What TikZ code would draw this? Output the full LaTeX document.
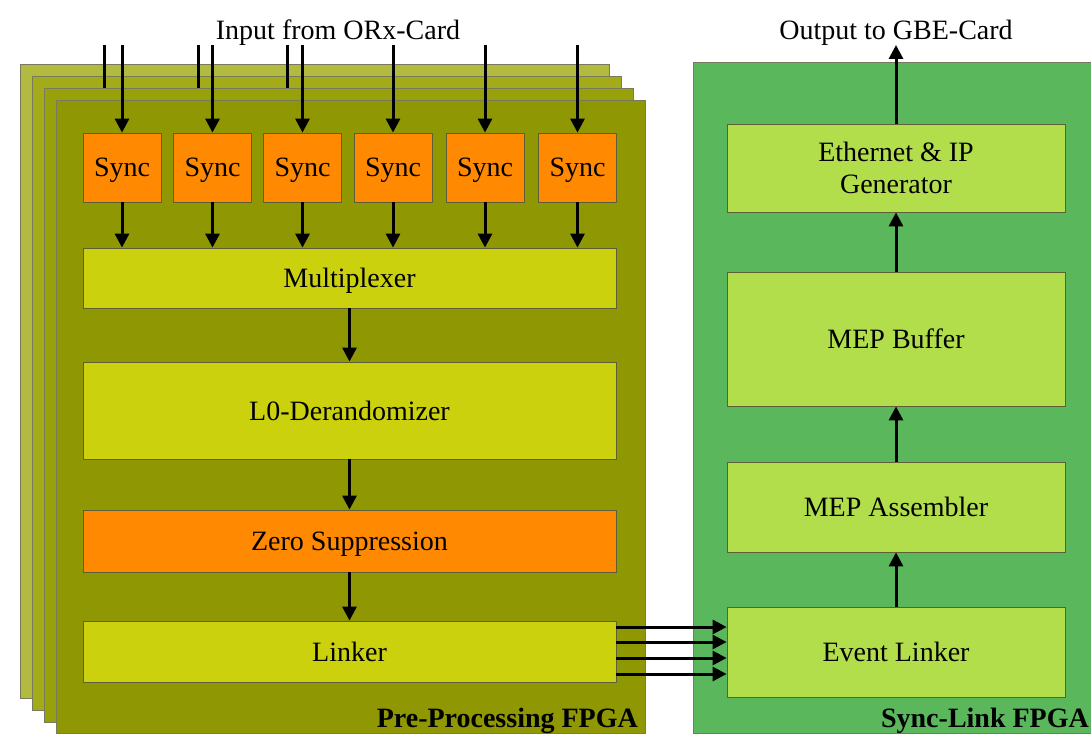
\documentclass[tikz,border=0pt]{standalone}
\usepackage{fontspec}
\setmainfont{Liberation Serif}
\usetikzlibrary{arrows.meta}
\definecolor{plateA}{RGB}{178,186,64}
\definecolor{plateB}{RGB}{163,171,24}
\definecolor{plateC}{RGB}{152,160,10}
\definecolor{plateD}{RGB}{143,151,2}
\definecolor{platebd}{RGB}{120,122,95}
\definecolor{orangec}{RGB}{255,137,0}
\definecolor{yelc}{RGB}{203,209,12}
\definecolor{boxbd}{RGB}{95,95,55}
\definecolor{greenpl}{RGB}{90,183,92}
\definecolor{lgreen}{RGB}{178,222,76}
\begin{document}
\begin{tikzpicture}[x=1pt,y=-1pt,
  every node/.style={font=\fontsize{28}{32}\selectfont, text=black},
  plate/.style={draw=platebd, line width=1pt},
  syncbox/.style={draw=boxbd, line width=0.8pt, fill=orangec, minimum width=78pt, minimum height=69pt, inner sep=0pt, text depth=0pt},
  widebox/.style={draw=boxbd, line width=0.8pt, fill=yelc, minimum width=533pt, inner sep=0pt, text depth=0pt},
  greenbox/.style={draw=boxbd, line width=0.8pt, fill=lgreen, minimum width=338pt, inner sep=0pt, align=center},
  arr/.style={line width=3pt, -{Triangle[length=14pt,width=14pt]}},
  stub/.style={line width=3pt},
  tag/.style={font=\bfseries\fontsize{28}{32}\selectfont}
]
\useasboundingbox (0,0) rectangle (1091,735);
\fill[white] (0,0) rectangle (1091,735);

% stacked plates
\draw[plate, fill=plateA] (20,65) rectangle (609,698);
\draw[plate, fill=plateB] (32,77) rectangle (621,710);
% stubs of inputs to back plates
\coordinate (s1t) at (104,45); \coordinate (s1b) at (104,95);
\coordinate (s2t) at (198,45); \coordinate (s2b) at (198,95);
\coordinate (s3t) at (287,45); \coordinate (s3b) at (287,95);
\draw[stub] (s1t) -- (s1b);
\draw[stub] (s2t) -- (s2b);
\draw[stub] (s3t) -- (s3b);
\draw[plate, fill=plateC] (44,89) rectangle (633,722);
\draw[plate, fill=plateD] (56,101) rectangle (645,733);

% sync-link plate
\draw[draw=platebd, line width=1pt, fill=greenpl] (693,63) rectangle (1095,733);

% sync boxes
\foreach \i/\x in {1/122,2/212.5,3/302.5,4/393,5/485,6/577.5}{
  \node[syncbox] (sy\i) at (\x,167.5) {Sync};
  \coordinate (in\i) at (\x,45);
}

\node[widebox, minimum height=60pt] (mux) at (349.5,278) {Multiplexer};
\node[widebox, minimum height=97pt] (l0) at (349.5,410.5) {L0-Derandomizer};
\node[widebox, minimum height=62pt, fill=orangec] (zs) at (349.5,541) {Zero Suppression};
\node[widebox, minimum height=61pt] (lk) at (349.5,651.5) {Linker};

\node[greenbox, minimum height=88pt] (eth) at (896,168) {Ethernet \& IP\\Generator};
\node[greenbox, minimum height=134pt, text depth=0pt] (buf) at (896,339) {MEP Buffer};
\node[greenbox, minimum height=90pt, text depth=0pt] (asm) at (896,507) {MEP Assembler};
\node[greenbox, minimum height=90pt, text depth=0pt] (el) at (896,652) {Event Linker};

% arrows
\foreach \i in {1,...,6}{
  \draw[arr] (in\i) -- (sy\i.north);
  \draw[arr] (sy\i.south) -- (sy\i.south |- mux.north);
}
\draw[arr] (mux.south) -- (l0.north);
\draw[arr] (l0.south) -- (zs.north);
\draw[arr] (zs.south) -- (lk.north);

\foreach \yy in {627,642,658,674}{
  \draw[arr] (lk.east |- 0,\yy) -- (el.west |- 0,\yy);
}

\draw[arr] (el.north) -- (asm.south);
\draw[arr] (asm.north) -- (buf.south);
\draw[arr] (buf.north) -- (eth.south);
\coordinate (outp) at (896,45);
\draw[arr] (eth.north) -- (outp);

% labels
\node[text depth=0pt] (inlab) at (338,30) {Input from ORx-Card};
\node[text depth=0pt] (outlab) at (896,30) {Output to GBE-Card};
\node[tag, anchor=base east, inner sep=0pt] (pptag) at (638,727) {Pre-Processing FPGA};
\node[tag, anchor=base east, inner sep=0pt] (sltag) at (1089,727) {Sync-Link FPGA};
\end{tikzpicture}
\end{document}
